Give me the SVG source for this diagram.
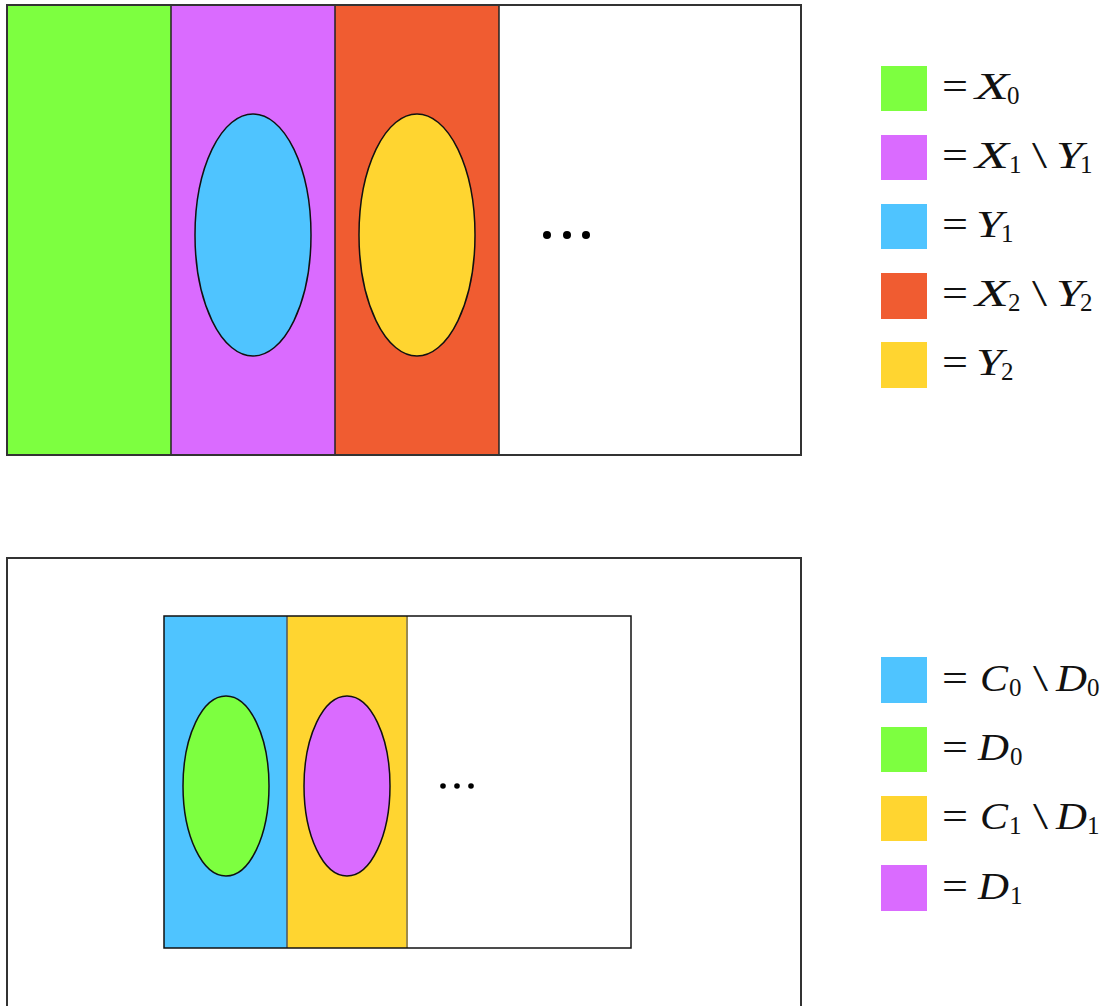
<svg xmlns="http://www.w3.org/2000/svg" width="1104" height="1006" viewBox="0 0 1104 1006">
<style>
.frame{fill:none;stroke:#333;stroke-width:2}
.div{stroke:#222;stroke-width:1.5}
.ell{stroke:#111;stroke-width:1.5}
.g{fill:#7DFF40}.p{fill:#DA6BFF}.b{fill:#4FC4FF}.o{fill:#F05C31}.y{fill:#FFD530}
.eq{font-family:"Liberation Serif","DejaVu Serif",serif;font-size:38px;fill:#111}
.v{font-family:"Liberation Serif","DejaVu Serif",serif;font-style:italic;font-size:38px;fill:#111}
.s{font-family:"Liberation Serif","DejaVu Serif",serif;font-size:25px;fill:#111}
.dot{fill:#000}
</style>
<rect width="1104" height="1006" fill="#fff"/>
<g id="top-diagram">
  <rect class="g" x="7" y="5" width="164" height="450"/>
  <rect class="p" x="171" y="5" width="164" height="450"/>
  <rect class="o" x="335" y="5" width="164" height="450"/>
  <line class="div" x1="171" y1="5" x2="171" y2="455"/>
  <line class="div" x1="335" y1="5" x2="335" y2="455"/>
  <line class="div" x1="499" y1="5" x2="499" y2="455"/>
  <ellipse class="b ell" cx="253" cy="235" rx="58" ry="121"/>
  <ellipse class="y ell" cx="417" cy="235" rx="58" ry="121"/>
  <circle class="dot" cx="547" cy="235" r="4"/>
  <circle class="dot" cx="567" cy="235" r="4"/>
  <circle class="dot" cx="586" cy="235" r="4"/>
  <rect class="frame" x="7" y="5" width="794" height="450"/>
</g>
<g id="top-legend">
  <rect class="g" x="881" y="66" width="46" height="45"/>
  <rect class="p" x="881" y="135" width="46" height="45"/>
  <rect class="b" x="881" y="204" width="46" height="45"/>
  <rect class="o" x="881" y="273" width="46" height="46"/>
  <rect class="y" x="881" y="342" width="46" height="46"/>
  <text class="eq" x="942" y="99" textLength="26" lengthAdjust="spacingAndGlyphs">=</text><text class="v" x="975" y="99" textLength="34" lengthAdjust="spacingAndGlyphs">X</text><text class="s" x="1007" y="104">0</text>
  <text class="eq" x="942" y="168" textLength="26" lengthAdjust="spacingAndGlyphs">=</text><text class="v" x="975" y="168" textLength="34" lengthAdjust="spacingAndGlyphs">X</text><text class="s" x="1009" y="173">1</text><text class="eq" x="1032" y="168" textLength="15" lengthAdjust="spacingAndGlyphs">\</text><text class="v" x="1056" y="168" textLength="27" lengthAdjust="spacingAndGlyphs">Y</text><text class="s" x="1080" y="173">1</text>
  <text class="eq" x="942" y="237" textLength="26" lengthAdjust="spacingAndGlyphs">=</text><text class="v" x="976" y="237" textLength="27" lengthAdjust="spacingAndGlyphs">Y</text><text class="s" x="1001" y="242">1</text>
  <text class="eq" x="942" y="306" textLength="26" lengthAdjust="spacingAndGlyphs">=</text><text class="v" x="975" y="306" textLength="34" lengthAdjust="spacingAndGlyphs">X</text><text class="s" x="1008" y="311">2</text><text class="eq" x="1032" y="306" textLength="15" lengthAdjust="spacingAndGlyphs">\</text><text class="v" x="1056" y="306" textLength="27" lengthAdjust="spacingAndGlyphs">Y</text><text class="s" x="1080" y="311">2</text>
  <text class="eq" x="942" y="375" textLength="26" lengthAdjust="spacingAndGlyphs">=</text><text class="v" x="976" y="375" textLength="27" lengthAdjust="spacingAndGlyphs">Y</text><text class="s" x="1001" y="380">2</text>
</g>
<g id="bottom-diagram">
  <rect class="frame" x="7" y="558" width="794" height="470"/>
  <rect class="b" x="164" y="616" width="123" height="332"/>
  <rect class="y" x="287" y="616" width="120" height="332"/>
  <line x1="287" y1="616" x2="287" y2="948" stroke="#555" stroke-width="1.5"/>
  <line x1="407" y1="616" x2="407" y2="948" stroke="#9a8a50" stroke-width="2"/>
  <ellipse class="g ell" cx="226" cy="786" rx="43" ry="90"/>
  <ellipse class="p ell" cx="347" cy="786" rx="43" ry="90"/>
  <circle class="dot" cx="443" cy="786" r="2.8"/>
  <circle class="dot" cx="457" cy="786" r="2.8"/>
  <circle class="dot" cx="471" cy="786" r="2.8"/>
  <rect x="164" y="616" width="467" height="332" fill="none" stroke="#111" stroke-width="1.5"/>
</g>
<g id="bottom-legend">
  <rect class="b" x="881" y="657" width="46" height="46"/>
  <rect class="g" x="881" y="727" width="46" height="45"/>
  <rect class="y" x="881" y="796" width="46" height="45"/>
  <rect class="p" x="881" y="865" width="46" height="46"/>
  <text class="eq" x="942" y="691" textLength="26" lengthAdjust="spacingAndGlyphs">=</text><text class="v" x="980" y="691" textLength="28" lengthAdjust="spacingAndGlyphs">C</text><text class="s" x="1009" y="696">0</text><text class="eq" x="1033" y="691" textLength="15" lengthAdjust="spacingAndGlyphs">\</text><text class="v" x="1056" y="691" textLength="31" lengthAdjust="spacingAndGlyphs">D</text><text class="s" x="1087" y="696">0</text>
  <text class="eq" x="942" y="760" textLength="26" lengthAdjust="spacingAndGlyphs">=</text><text class="v" x="978" y="760" textLength="31" lengthAdjust="spacingAndGlyphs">D</text><text class="s" x="1010" y="765">0</text>
  <text class="eq" x="942" y="829" textLength="26" lengthAdjust="spacingAndGlyphs">=</text><text class="v" x="980" y="829" textLength="28" lengthAdjust="spacingAndGlyphs">C</text><text class="s" x="1009" y="834">1</text><text class="eq" x="1033" y="829" textLength="15" lengthAdjust="spacingAndGlyphs">\</text><text class="v" x="1056" y="829" textLength="31" lengthAdjust="spacingAndGlyphs">D</text><text class="s" x="1087" y="834">1</text>
  <text class="eq" x="942" y="899" textLength="26" lengthAdjust="spacingAndGlyphs">=</text><text class="v" x="978" y="899" textLength="31" lengthAdjust="spacingAndGlyphs">D</text><text class="s" x="1010" y="904">1</text>
</g>
</svg>
